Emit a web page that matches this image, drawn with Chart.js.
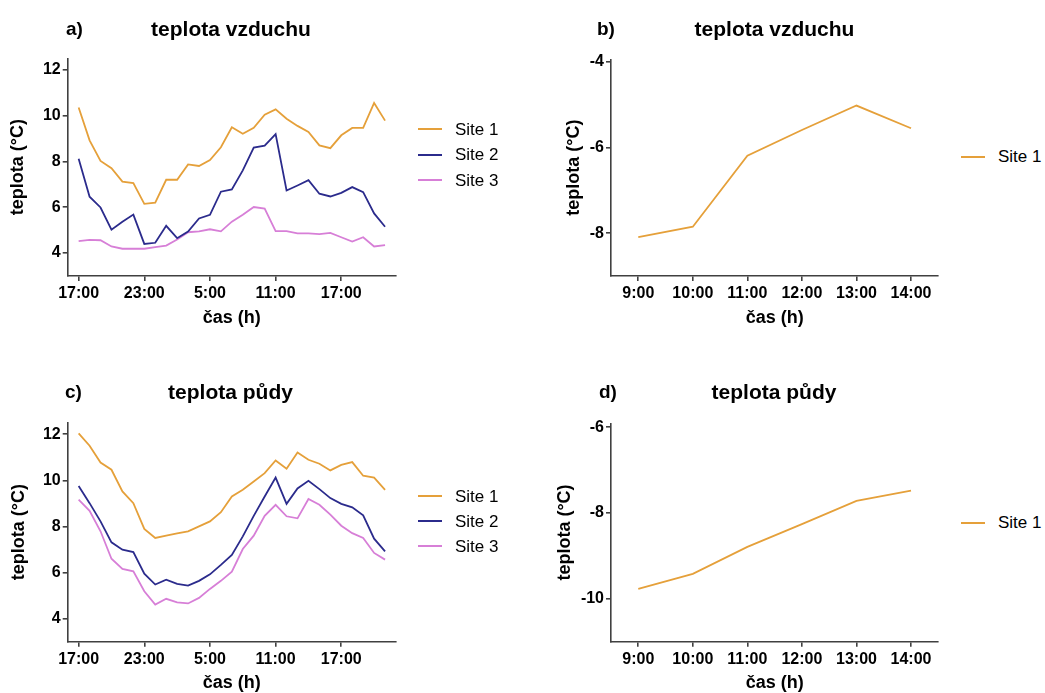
<!DOCTYPE html>
<html><head><meta charset="utf-8">
<script src="https://cdn.jsdelivr.net/npm/chart.js@4.4.0/dist/chart.umd.min.js"></script>
<style>
body{margin:0;background:#fff;width:1045px;height:693px;position:relative;overflow:hidden;font-family:"Liberation Sans",Arial,sans-serif;color:#000;}
canvas{position:absolute;}
.t{position:absolute;font-weight:bold;white-space:nowrap;line-height:1;}
.ttl{font-size:21px;width:300px;text-align:center;}
.lab{font-size:19px;}
.lgl{position:absolute;width:24px;height:2px;}
.lgt{position:absolute;font-size:17px;line-height:17px;white-space:nowrap;}
</style></head><body>
<canvas id="ca" width="420" height="345" style="left:0px;top:0px"></canvas>
<canvas id="cb" width="420" height="345" style="left:530px;top:0px"></canvas>
<canvas id="cc" width="420" height="343" style="left:0px;top:350px"></canvas>
<canvas id="cd" width="420" height="343" style="left:530px;top:350px"></canvas>

<div class="t lab" style="left:66px;top:19.4px">a)</div>
<div class="t ttl" style="left:81px;top:17.7px">teplota vzduchu</div>
<div class="t lab" style="left:597px;top:19.4px">b)</div>
<div class="t ttl" style="left:624.5px;top:17.7px">teplota vzduchu</div>
<div class="t lab" style="left:65px;top:382.4px">c)</div>
<div class="t ttl" style="left:80.5px;top:380.7px">teplota půdy</div>
<div class="t lab" style="left:599px;top:382.4px">d)</div>
<div class="t ttl" style="left:624px;top:380.7px">teplota půdy</div>
<div id="legends"></div>

<script>
// ---------- data ----------
const hourLabels = ['17:00','18:00','19:00','20:00','21:00','22:00','23:00','0:00','1:00','2:00','3:00','4:00','5:00','6:00','7:00','8:00','9:00','10:00','11:00','12:00','13:00','14:00','15:00','16:00','17:00','18:00','19:00','20:00','21:00'];
const longTickIndex = [0, 6, 12, 18, 24];
const longTickLabels = ['17:00','23:00','5:00','11:00','17:00'];
const shortHourLabels = ['9:00','10:00','11:00','12:00','13:00','14:00'];
const siteNames = ['Site 1','Site 2','Site 3'];

const airSite1 = [10.35, 8.92, 8.02, 7.70, 7.12, 7.05, 6.15, 6.20, 7.20, 7.20, 7.87, 7.80, 8.06, 8.62, 9.49, 9.21, 9.47, 10.04, 10.27, 9.86, 9.55, 9.29, 8.70, 8.58, 9.14, 9.46, 9.46, 10.55, 9.78];
const airSite2 = [8.12, 6.46, 5.99, 5.02, 5.37, 5.68, 4.40, 4.45, 5.19, 4.65, 4.94, 5.51, 5.67, 6.68, 6.78, 7.61, 8.60, 8.69, 9.19, 6.73, 6.95, 7.18, 6.59, 6.47, 6.63, 6.88, 6.66, 5.73, 5.15];
const airSite3 = [4.52, 4.58, 4.56, 4.29, 4.19, 4.19, 4.19, 4.26, 4.33, 4.59, 4.91, 4.95, 5.04, 4.95, 5.37, 5.67, 6.01, 5.94, 4.96, 4.96, 4.86, 4.86, 4.83, 4.88, 4.69, 4.50, 4.69, 4.29, 4.35];

const soilSite1 = [12.04, 11.50, 10.77, 10.46, 9.52, 9.01, 7.89, 7.50, 7.60, 7.70, 7.79, 8.00, 8.22, 8.62, 9.30, 9.59, 9.95, 10.31, 10.86, 10.50, 11.21, 10.89, 10.72, 10.43, 10.67, 10.79, 10.20, 10.12, 9.59];
const soilSite2 = [9.75, 9.01, 8.22, 7.31, 6.99, 6.89, 5.95, 5.48, 5.69, 5.51, 5.43, 5.64, 5.92, 6.33, 6.76, 7.57, 8.46, 9.30, 10.12, 8.98, 9.65, 9.98, 9.62, 9.23, 8.98, 8.83, 8.48, 7.47, 6.92];
const soilSite3 = [9.16, 8.68, 7.79, 6.60, 6.16, 6.05, 5.19, 4.61, 4.86, 4.71, 4.66, 4.90, 5.29, 5.64, 6.04, 7.02, 7.60, 8.46, 8.94, 8.44, 8.35, 9.19, 8.94, 8.51, 8.03, 7.71, 7.50, 6.85, 6.56];

const airShortSite1 = [-8.09, -7.85, -6.19, -5.59, -5.02, -5.55];
const soilShortSite1 = [-9.77, -9.42, -8.79, -8.26, -7.72, -7.48];

const yTicksLong = [4, 6, 8, 10, 12];
const yTicksAirShort = [-8, -6, -4];
const yTicksSoilShort = [-10, -8, -6];

// ---------- styles ----------
const colors = ['#E5A03A', '#2B2B8C', '#D77FD7'];
const axisColor = '#404040';
const FF = '"Liberation Sans", Arial, sans-serif';

function buildPanel(id, geo, cfg) {
  const cv = document.getElementById(id);
  const {cx, cy, cw, ch, L, T, R, B, titleX, titleY} = geo;
  const xH = titleY + 9 - B;
  const datasets = cfg.series.map((vals, k) => ({
    label: siteNames[k],
    data: cfg.long ? vals.map((v, i) => ({x: i, y: v})) : vals,
    borderColor: colors[k],
    borderWidth: 1.8,
    pointRadius: 0,
    tension: 0,
    fill: false
  }));
  const xScale = cfg.long ? {
    type: 'linear', min: -1, max: hourLabels.length,
    afterBuildTicks: s => { s.ticks = longTickIndex.map(v => ({value: v})); },
    ticks: {callback: (v, i) => longTickLabels[i]}
  } : {
    type: 'category', offset: true,
    ticks: {}
  };
  Object.assign(xScale.ticks, {font: {family: FF, size: 16, weight: 'bold'}, color: '#000', padding: 3, maxRotation: 0, autoSkip: false});
  Object.assign(xScale, {
    grid: {display: true, drawOnChartArea: false, drawTicks: true, tickLength: 5, color: axisColor, lineWidth: 1.6, offset: false},
    border: {display: true, color: axisColor, width: 1.6},
    title: {display: true, text: 'čas (h)', color: '#000', font: {family: FF, size: 18, weight: 'bold', lineHeight: 1}, padding: {top: 0, bottom: 0}},
    afterFit: s => { s.height = xH; }
  });
  new Chart(cv, {
    type: 'line',
    data: {labels: cfg.long ? hourLabels : shortHourLabels, datasets},
    options: {
      responsive: false, animation: false, devicePixelRatio: 1,
      layout: {padding: {left: 0, top: T - cy, right: cx + cw - R, bottom: ch - (B - cy) - xH}},
      plugins: {legend: {display: false}, tooltip: {enabled: false}, title: {display: false}},
      scales: {
        x: xScale,
        y: {
          type: 'linear', min: cfg.ymin, max: cfg.ymax,
          afterBuildTicks: s => { s.ticks = cfg.yTicks.map(v => ({value: v})); },
          ticks: {callback: v => String(v), font: {family: FF, size: 16, weight: 'bold'}, color: '#000', padding: 2},
          grid: {display: true, drawOnChartArea: false, drawTicks: true, tickLength: 5, color: axisColor, lineWidth: 1.6},
          border: {display: true, color: axisColor, width: 1.6},
          title: {display: true, text: 'teplota (°C)', color: '#000', font: {family: FF, size: 18, weight: 'bold', lineHeight: 1}, padding: {top: titleX - cx - 9, bottom: 0}},
          afterFit: s => { s.width = L - cx; }
        }
      }
    }
  });
}

buildPanel('ca', {cx: 0, cy: 0, cw: 420, ch: 345, L: 67.7, T: 58.3, R: 396, B: 276, titleX: 18, titleY: 318},
  {long: true, series: [airSite1, airSite2, airSite3], ymin: 3, ymax: 12.5, yTicks: yTicksLong});
buildPanel('cb', {cx: 530, cy: 0, cw: 420, ch: 345, L: 611, T: 59.3, R: 938.3, B: 276, titleX: 574, titleY: 318},
  {long: false, series: [airShortSite1], ymin: -9, ymax: -3.94, yTicks: yTicksAirShort});
buildPanel('cc', {cx: 0, cy: 350, cw: 420, ch: 343, L: 67.7, T: 422.7, R: 396, B: 641.7, titleX: 19, titleY: 683.3},
  {long: true, series: [soilSite1, soilSite2, soilSite3], ymin: 3, ymax: 12.5, yTicks: yTicksLong});
buildPanel('cd', {cx: 530, cy: 350, cw: 420, ch: 343, L: 611, T: 423.3, R: 938.3, B: 641.7, titleX: 565, titleY: 683.3},
  {long: false, series: [soilShortSite1], ymin: -11, ymax: -5.91, yTicks: yTicksSoilShort});

// ---------- legends (HTML) ----------
function legend(x, rows) {
  const host = document.getElementById('legends');
  rows.forEach((y, k) => {
    const ln = document.createElement('div');
    ln.className = 'lgl';
    ln.style.left = x + 'px'; ln.style.top = (y - 1) + 'px'; ln.style.background = colors[k];
    host.appendChild(ln);
    const tx = document.createElement('div');
    tx.className = 'lgt';
    tx.style.left = (x + 37) + 'px'; tx.style.top = (y - 8.3) + 'px';
    tx.textContent = siteNames[k];
    host.appendChild(tx);
  });
}
legend(418, [129, 154.5, 180]);
legend(961, [156.7]);
legend(418, [496, 521, 546]);
legend(961, [522.7]);
</script>
</body></html>
